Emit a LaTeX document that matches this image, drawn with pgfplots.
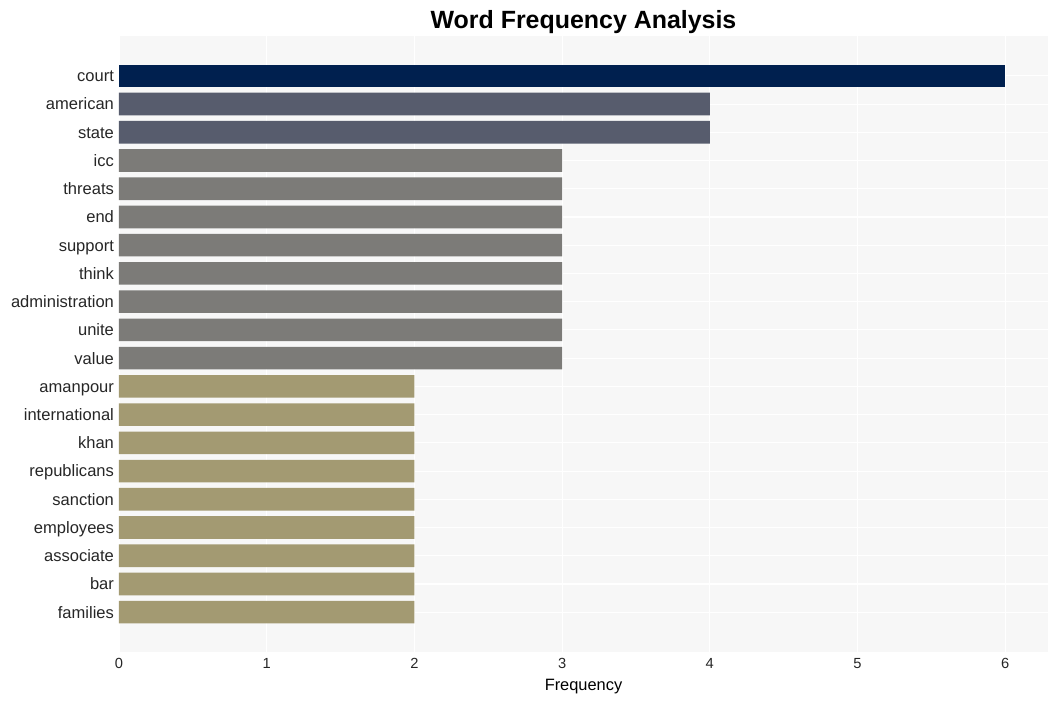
\documentclass[border=0pt]{standalone}
\usepackage{pgfplots}
\pgfplotsset{compat=1.18}
\usepackage{fontspec}
\setmainfont{Liberation Sans}
\definecolor{cTop}{HTML}{00204F}
\definecolor{cSec}{HTML}{575C6D}
\definecolor{cMid}{HTML}{7C7B78}
\definecolor{cLow}{HTML}{A39A72}
\definecolor{bgGray}{HTML}{F7F7F7}
\begin{document}
\begin{tikzpicture}
\path[use as bounding box] (-89.25pt,-36.75pt) rectangle (704.25pt,489pt);
\begin{axis}[
    scale only axis,
    width=696.75pt,
    height=462pt,
    xbar,
    bar width=0.8,
    bar shift=0pt,
    y dir=reverse,
    xmin=0, xmax=6.29,
    ymin=-1.41, ymax=20.41,
    ytick={0,...,19},
    yticklabels={court,american,state,icc,threats,end,support,think,administration,unite,value,amanpour,international,khan,republicans,sanction,employees,associate,bar,families},
    xtick={0,...,6},
    axis line style={draw=none},
    tick style={draw=none},
    axis background/.style={fill=bgGray},
    grid=major,
    grid style={white, line width=0.8pt},
    tick label style={text=black!85},
    xticklabel style={font=\fontsize{11}{13}\selectfont, yshift=-1pt},
    yticklabel style={font=\fontsize{12.4}{14}\selectfont, xshift=4pt, yshift=-1pt, text height=1.6ex, text depth=0.3ex},
    xlabel={Frequency},
    xlabel style={font=\fontsize{12.3}{14}\selectfont, yshift=-1pt},
    title={Word Frequency Analysis},
    title style={font=\fontsize{18.7}{21}\selectfont\bfseries, yshift=-8pt},
    /pgf/number format/assume math mode=true,
]
\addplot[fill=cTop, draw=none] coordinates {(6,0)};
\addplot[fill=cSec, draw=none] coordinates {(4,1) (4,2)};
\addplot[fill=cMid, draw=none] coordinates {(3,3) (3,4) (3,5) (3,6) (3,7) (3,8) (3,9) (3,10)};
\addplot[fill=cLow, draw=none] coordinates {(2,11) (2,12) (2,13) (2,14) (2,15) (2,16) (2,17) (2,18) (2,19)};
\end{axis}
\end{tikzpicture}
\end{document}
